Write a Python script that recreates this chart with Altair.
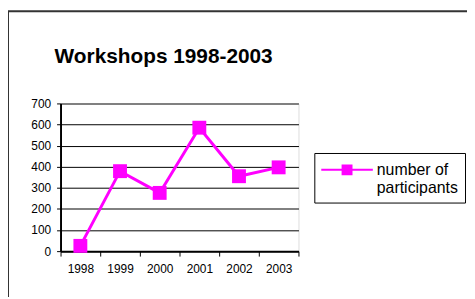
import altair as alt
import pandas as pd

years = ["1998", "1999", "2000", "2001", "2002", "2003"]
participants = [25, 379, 276, 585, 355, 397]
series_name = "number of participants"
y_ticks = [0, 100, 200, 300, 400, 500, 600, 700]
title_text = "Workshops 1998-2003"

df = pd.DataFrame({"year": years, "value": participants, "series": [series_name] * len(years)})

FONT = "Liberation Sans"
MAGENTA = "#ff00ff"

x_enc = alt.X(
    "year:O",
    scale=alt.Scale(type="band", paddingInner=0, paddingOuter=0),
    axis=alt.Axis(
        title=None, labelAngle=0, tickBand="extent", tickSize=5, tickColor="black",
        domainColor="black", domainWidth=2, labelPadding=8, labelFontSize=12,
        labelColor="black", grid=False,
    ),
)
y_enc = alt.Y(
    "value:Q",
    scale=alt.Scale(domain=[0, 700], nice=False),
    axis=alt.Axis(
        title=None, values=y_ticks, tickSize=4, tickColor="black", domainColor="black",
        domainWidth=2, labelPadding=6, labelFontSize=12, labelColor="black",
        grid=True,
        gridColor={"condition": {"test": "datum.value === 700", "value": "#808080"}, "value": "black"},
        gridWidth={"condition": {"test": "datum.value === 700", "value": 2}, "value": 1},
    ),
)

frame = alt.Chart(alt.Data(values=[{}])).mark_rect(
    filled=False, stroke="#333333", strokeWidth=2
).encode(
    x=alt.value(-53), x2=alt.value(1000), y=alt.value(-93), y2=alt.value(1000)
)

line = alt.Chart(df).mark_line(color=MAGENTA, strokeWidth=3).encode(x=x_enc, y=y_enc)

legend_path = "M-1,-0.1H4.2V0.1H-1Z M1.05,-0.55H2.15V0.55H1.05Z"

points = alt.Chart(df).mark_square(size=196, filled=True, opacity=1).encode(
    x=x_enc,
    y=y_enc,
    color=alt.Color(
        "series:N",
        scale=alt.Scale(range=[MAGENTA]),
        legend=alt.Legend(
            title=None, orient="none", legendX=256, legendY=50,
            symbolType=legend_path, symbolSize=400, symbolStrokeWidth=0,
            labelOffset=36, labelFontSize=16, labelFont=FONT, labelColor="black",
            labelLimit=300, labelExpr="split(datum.label, ' p')[0] == datum.label ? datum.label : ['number of', 'participants']",
            padding=7, strokeColor="black", fillColor="white",
        ),
    ),
)

chart = alt.layer(frame, line, points).properties(
    width=240,
    height=149,
    title=alt.TitleParams(
        text=title_text, anchor="start", frame="group", font=FONT, fontSize=21,
        fontWeight="bold", color="black", dx=-6, dy=61,
    ),
    autosize=alt.AutoSizeParams(type="none"),
    padding={"left": 53, "top": 95, "right": 170, "bottom": 45},
).configure_view(
    fill="#c0c0c0", stroke="#808080", strokeWidth=2
).configure(
    font=FONT
)

chart.save("out.html", embed_options={"renderer": "svg", "actions": False})
